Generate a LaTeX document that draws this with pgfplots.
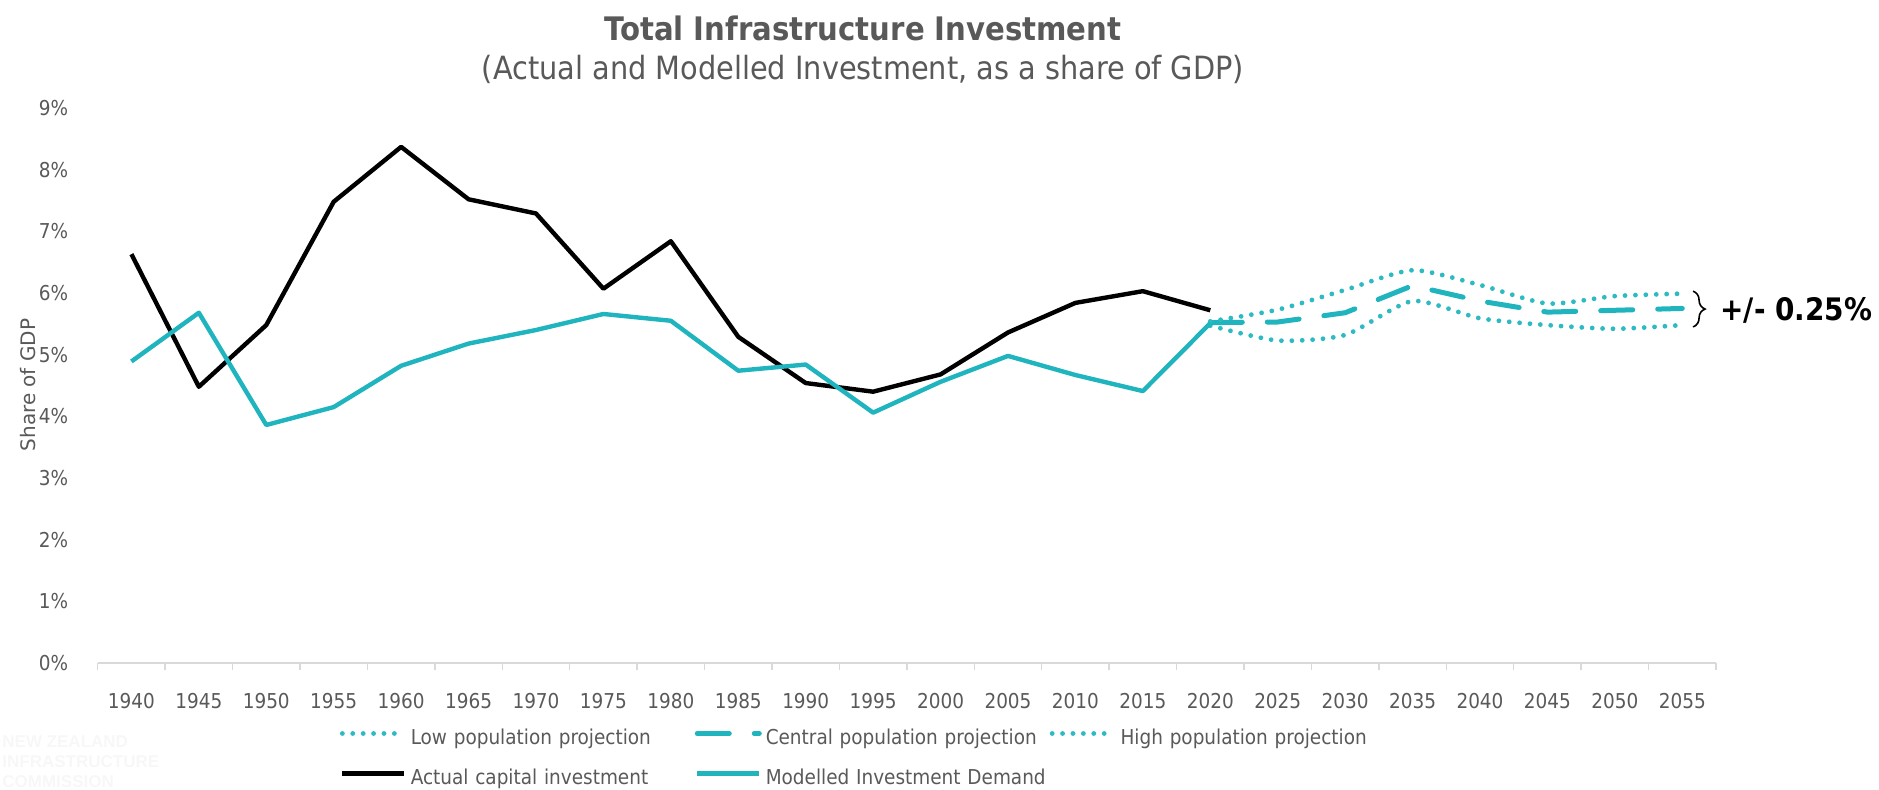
\documentclass[border=0pt]{standalone}
\usepackage{fontspec}
\setmainfont{DejaVu Sans Condensed}
\newfontfamily\widefont{DejaVu Sans}
\newfontfamily\wmfont{Liberation Sans}
\usepackage{pgfplots}
\pgfplotsset{compat=1.18}
\usetikzlibrary{decorations.pathreplacing}
\definecolor{tealc}{HTML}{1FB4BE}
\definecolor{tealdot}{HTML}{2DBAC3}
\definecolor{txt}{HTML}{595959}
\definecolor{axl}{HTML}{D9D9D9}

\pgfplotstableread{
x y
0 6.63
1 4.48
2 5.48
3 7.48
4 8.37
5 7.52
6 7.29
7 6.07
8 6.84
9 5.29
10 4.54
11 4.40
12 4.68
13 5.36
14 5.84
15 6.03
16 5.72
}\actual
\pgfplotstableread{
x y
0 4.89
1 5.68
2 3.86
3 4.15
4 4.82
5 5.18
6 5.40
7 5.66
8 5.55
9 4.74
10 4.84
11 4.06
12 4.56
13 4.98
14 4.67
15 4.41
16 5.51
}\modelled
\pgfplotstableread{
x low central high
16 5.47 5.52 5.54
17 5.23 5.53 5.73
18 5.32 5.68 6.05
19 5.87 6.12 6.37
20 5.59 5.87 6.13
21 5.48 5.69 5.83
22 5.42 5.72 5.95
23 5.48 5.75 5.99
}\proj

\begin{document}
\begin{tikzpicture}
\begin{axis}[
  anchor=south west, at={(48.85pt,63pt)},
  width=809.15pt, height=277.5pt, scale only axis,
  xmin=-0.5, xmax=23.5, ymin=0, ymax=9,
  clip=false,
  axis x line*=bottom, axis y line*=left,
  x axis line style={axl, line width=0.75pt, -},
  y axis line style={draw=none},
  xtick={0,...,23},
  xticklabels={1940,1945,1950,1955,1960,1965,1970,1975,1980,1985,1990,1995,2000,2005,2010,2015,2020,2025,2030,2035,2040,2045,2050,2055},
  major x tick style={draw=none},
  minor xtick={-0.5,0.5,...,23.5},
  minor x tick style={axl, line width=0.75pt},
  minor tick length=3.5pt,
  tick align=outside,
  ytick={0,...,9},
  yticklabels={0\%,1\%,2\%,3\%,4\%,5\%,6\%,7\%,8\%,9\%},
  major y tick style={draw=none},
  tick label style={font=\fontsize{10.25}{12}\selectfont, text=txt},
  xticklabel style={anchor=base, yshift=-18.5pt, inner sep=0pt},
  yticklabel style={anchor=east, inner sep=0pt, xshift=-10.3pt},
  legend columns=3,
  legend image code/.code={\draw[#1] (0pt,3pt) -- (31pt,3pt);},
  legend style={at={(rel axis cs:0.1497,-0.1189)}, anchor=north west,
    draw=none, fill=none, inner sep=0pt, outer sep=0pt,
    column sep=0pt, row sep=9.5pt,
    nodes={inner sep=0pt, text height=8pt, text depth=2.5pt, text width=142pt, align=left,
      font=\fontsize{10.25}{12}\selectfont, text=txt},
    /tikz/every odd column/.append style={column sep=2pt}},
]
\addplot[tealdot, line width=2.4pt, line cap=round, dash pattern=on 0pt off 5.2pt, smooth, tension=0.4] table[x=x, y=low] {\proj};
\addlegendentry{Low population projection}
\addplot[tealc, line width=2.5pt, line cap=round, dash pattern=on 16pt off 12.5pt] table[x=x, y=central] {\proj};
\addlegendentry{Central population projection}
\addplot[tealdot, line width=2.4pt, line cap=round, dash pattern=on 0pt off 5.2pt, smooth, tension=0.4] table[x=x, y=high] {\proj};
\addlegendentry{High population projection}
\addplot[black, line width=2.2pt, line join=round] table[x=x, y=y] {\actual};
\addlegendentry{Actual capital investment}
\addplot[tealc, line width=2.2pt, line join=round] table[x=x, y=y] {\modelled};
\addlegendentry{Modelled Investment Demand}

\draw[black, line width=0.8pt, decorate, decoration={brace, amplitude=6pt}] (axis cs:23.16,6.03) -- (axis cs:23.16,5.45);
\node[anchor=base west, inner sep=0pt, font=\fontsize{15.5}{18}\selectfont\bfseries] at (axis cs:23.56,5.56) {+/- 0.25\%};
\end{axis}

\node[anchor=base, inner sep=0pt, text=txt, font=\fontsize{16.2}{19}\selectfont\bfseries] at (431.5pt,374pt) {Total Infrastructure Investment};
\node[anchor=base, inner sep=0pt, text=txt, font=\fontsize{16}{19}\selectfont] at (431.5pt,354.5pt) {(Actual and Modelled Investment, as a share of GDP)};
\node[rotate=90, anchor=center, inner sep=0pt, text=txt, font=\widefont\fontsize{10}{12}\selectfont] at (14pt,202pt) {Share of GDP};

\node[anchor=base west, inner sep=0pt, text=black!3, font=\wmfont\bfseries\fontsize{8.5}{10}\selectfont] at (1pt,21pt) {NEW ZEALAND};
\node[anchor=base west, inner sep=0pt, text=black!3, font=\wmfont\bfseries\fontsize{8.5}{10}\selectfont] at (1pt,11pt) {INFRASTRUCTURE};
\node[anchor=base west, inner sep=0pt, text=black!3, font=\wmfont\bfseries\fontsize{8.5}{10}\selectfont] at (1pt,1pt) {COMMISSION};

\pgfresetboundingbox
\useasboundingbox (0,0) rectangle (939.5pt,394.5pt);
\end{tikzpicture}
\end{document}
